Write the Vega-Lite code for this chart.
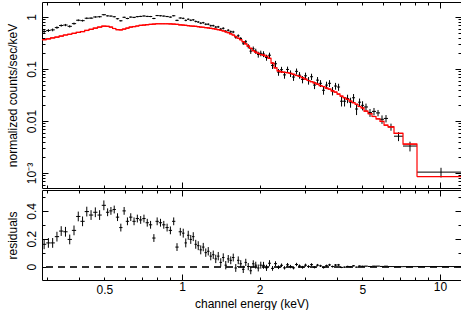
{
  "$schema": "https://vega.github.io/schema/vega-lite/v6.json",
  "padding": {"left": 5, "top": 1, "right": 0, "bottom": 0},
  "spacing": 0,
  "config": {
    "view": {"stroke": "black", "strokeWidth": 1},
    "font": "Liberation Sans",
    "axis": {"grid": false, "domain": false, "tickColor": "black", "labelColor": "black", "titleColor": "black", "labelFont": "Liberation Sans", "titleFont": "Liberation Sans", "labelFontSize": 12, "titleFontSize": 12, "titleFontWeight": "normal", "tickWidth": 1}
  },
  "data": {"values": [
    {"lo":0.2867,"hi":0.2978,"e":0.2922,"c":0.526,"ce":0.035,"m":0.366,"r":0.16},
    {"lo":0.2978,"hi":0.3094,"e":0.3035,"c":0.55,"ce":0.035,"m":0.38,"r":0.17},
    {"lo":0.3094,"hi":0.3214,"e":0.3153,"c":0.565,"ce":0.035,"m":0.395,"r":0.17},
    {"lo":0.3214,"hi":0.3339,"e":0.3276,"c":0.625,"ce":0.035,"m":0.41,"r":0.215},
    {"lo":0.3339,"hi":0.3468,"e":0.3403,"c":0.685,"ce":0.035,"m":0.43,"r":0.255},
    {"lo":0.3468,"hi":0.3603,"e":0.3535,"c":0.70,"ce":0.035,"m":0.45,"r":0.25},
    {"lo":0.3603,"hi":0.3743,"e":0.3672,"c":0.66,"ce":0.035,"m":0.465,"r":0.195},
    {"lo":0.3743,"hi":0.3888,"e":0.3815,"c":0.745,"ce":0.035,"m":0.485,"r":0.26},
    {"lo":0.3888,"hi":0.4039,"e":0.3963,"c":0.865,"ce":0.035,"m":0.505,"r":0.36},
    {"lo":0.4039,"hi":0.4196,"e":0.4117,"c":0.85,"ce":0.035,"m":0.525,"r":0.325},
    {"lo":0.4196,"hi":0.4359,"e":0.4276,"c":0.945,"ce":0.035,"m":0.55,"r":0.395},
    {"lo":0.4359,"hi":0.4528,"e":0.4442,"c":0.95,"ce":0.035,"m":0.58,"r":0.37},
    {"lo":0.4528,"hi":0.4704,"e":0.4615,"c":1.00,"ce":0.035,"m":0.61,"r":0.39},
    {"lo":0.4704,"hi":0.4886,"e":0.4794,"c":1.01,"ce":0.035,"m":0.64,"r":0.37},
    {"lo":0.4886,"hi":0.5074,"e":0.4980,"c":1.105,"ce":0.035,"m":0.665,"r":0.44},
    {"lo":0.5074,"hi":0.5226,"e":0.5149,"c":1.05,"ce":0.028,"m":0.66,"r":0.39},
    {"lo":0.5226,"hi":0.5382,"e":0.5304,"c":1.04,"ce":0.028,"m":0.64,"r":0.40},
    {"lo":0.5382,"hi":0.5543,"e":0.5462,"c":1.01,"ce":0.028,"m":0.60,"r":0.41},
    {"lo":0.5543,"hi":0.5709,"e":0.5625,"c":0.925,"ce":0.028,"m":0.57,"r":0.355},
    {"lo":0.5709,"hi":0.5880,"e":0.5794,"c":0.845,"ce":0.028,"m":0.565,"r":0.28},
    {"lo":0.5880,"hi":0.6056,"e":0.5967,"c":0.985,"ce":0.028,"m":0.585,"r":0.40},
    {"lo":0.6056,"hi":0.6237,"e":0.6146,"c":0.935,"ce":0.028,"m":0.61,"r":0.325},
    {"lo":0.6237,"hi":0.6424,"e":0.6330,"c":0.995,"ce":0.028,"m":0.64,"r":0.355},
    {"lo":0.6424,"hi":0.6616,"e":0.6519,"c":0.98,"ce":0.028,"m":0.655,"r":0.325},
    {"lo":0.6616,"hi":0.6814,"e":0.6714,"c":1.015,"ce":0.028,"m":0.67,"r":0.345},
    {"lo":0.6814,"hi":0.7018,"e":0.6915,"c":1.025,"ce":0.028,"m":0.69,"r":0.335},
    {"lo":0.7018,"hi":0.7228,"e":0.7122,"c":1.045,"ce":0.028,"m":0.70,"r":0.345},
    {"lo":0.7228,"hi":0.7444,"e":0.7335,"c":1.025,"ce":0.028,"m":0.71,"r":0.315},
    {"lo":0.7444,"hi":0.7667,"e":0.7555,"c":1.02,"ce":0.028,"m":0.72,"r":0.30},
    {"lo":0.7667,"hi":0.7896,"e":0.7781,"c":0.935,"ce":0.028,"m":0.73,"r":0.205},
    {"lo":0.7896,"hi":0.8133,"e":0.8013,"c":1.065,"ce":0.028,"m":0.74,"r":0.325},
    {"lo":0.8133,"hi":0.8376,"e":0.8254,"c":1.055,"ce":0.028,"m":0.74,"r":0.315},
    {"lo":0.8376,"hi":0.8627,"e":0.8500,"c":1.04,"ce":0.028,"m":0.74,"r":0.30},
    {"lo":0.8627,"hi":0.8885,"e":0.8755,"c":1.02,"ce":0.028,"m":0.74,"r":0.28},
    {"lo":0.8885,"hi":0.9151,"e":0.9017,"c":0.995,"ce":0.028,"m":0.735,"r":0.26},
    {"lo":0.9151,"hi":0.9425,"e":0.9287,"c":1.055,"ce":0.028,"m":0.73,"r":0.325},
    {"lo":0.9425,"hi":0.9707,"e":0.9565,"c":0.86,"ce":0.028,"m":0.72,"r":0.14},
    {"lo":0.9707,"hi":1.0,"e":0.9851,"c":0.955,"ce":0.028,"m":0.705,"r":0.25},
    {"lo":1.0,"hi":1.0226,"e":1.0112,"c":0.94,"ce":0.032,"m":0.70,"r":0.24},
    {"lo":1.0226,"hi":1.0457,"e":1.0341,"c":0.86,"ce":0.032,"m":0.69,"r":0.17},
    {"lo":1.0457,"hi":1.0693,"e":1.0574,"c":0.905,"ce":0.032,"m":0.68,"r":0.225},
    {"lo":1.0693,"hi":1.0934,"e":1.0813,"c":0.865,"ce":0.032,"m":0.67,"r":0.195},
    {"lo":1.0934,"hi":1.1181,"e":1.1057,"c":0.88,"ce":0.032,"m":0.665,"r":0.215},
    {"lo":1.1181,"hi":1.1433,"e":1.1306,"c":0.82,"ce":0.032,"m":0.66,"r":0.16},
    {"lo":1.1433,"hi":1.1691,"e":1.1561,"c":0.80,"ce":0.032,"m":0.65,"r":0.15},
    {"lo":1.1691,"hi":1.1955,"e":1.1822,"c":0.76,"ce":0.032,"m":0.64,"r":0.12},
    {"lo":1.1955,"hi":1.2225,"e":1.2089,"c":0.775,"ce":0.03,"m":0.635,"r":0.14},
    {"lo":1.2225,"hi":1.2501,"e":1.2362,"c":0.725,"ce":0.03,"m":0.625,"r":0.10},
    {"lo":1.2501,"hi":1.2783,"e":1.2641,"c":0.725,"ce":0.03,"m":0.615,"r":0.11},
    {"lo":1.2783,"hi":1.3071,"e":1.2926,"c":0.68,"ce":0.03,"m":0.605,"r":0.075},
    {"lo":1.3071,"hi":1.3366,"e":1.3218,"c":0.68,"ce":0.03,"m":0.595,"r":0.085},
    {"lo":1.3366,"hi":1.3668,"e":1.3516,"c":0.64,"ce":0.03,"m":0.585,"r":0.055},
    {"lo":1.3668,"hi":1.3976,"e":1.3821,"c":0.645,"ce":0.03,"m":0.57,"r":0.075},
    {"lo":1.3976,"hi":1.4292,"e":1.4133,"c":0.585,"ce":0.03,"m":0.555,"r":0.03},
    {"lo":1.4292,"hi":1.4614,"e":1.4452,"c":0.605,"ce":0.03,"m":0.54,"r":0.065},
    {"lo":1.4614,"hi":1.4944,"e":1.4778,"c":0.53,"ce":0.03,"m":0.52,"r":0.01},
    {"lo":1.4944,"hi":1.5281,"e":1.5112,"c":0.555,"ce":0.028,"m":0.50,"r":0.055},
    {"lo":1.5281,"hi":1.5626,"e":1.5452,"c":0.52,"ce":0.028,"m":0.475,"r":0.045},
    {"lo":1.5626,"hi":1.5979,"e":1.5801,"c":0.515,"ce":0.028,"m":0.45,"r":0.065},
    {"lo":1.5979,"hi":1.6339,"e":1.6158,"c":0.41,"ce":0.028,"m":0.42,"r":-0.01},
    {"lo":1.6339,"hi":1.6708,"e":1.6522,"c":0.435,"ce":0.028,"m":0.39,"r":0.045},
    {"lo":1.6708,"hi":1.7085,"e":1.6895,"c":0.385,"ce":0.026,"m":0.365,"r":0.02},
    {"lo":1.7085,"hi":1.7471,"e":1.7277,"c":0.315,"ce":0.026,"m":0.335,"r":-0.02},
    {"lo":1.7471,"hi":1.7865,"e":1.7667,"c":0.335,"ce":0.026,"m":0.305,"r":0.03},
    {"lo":1.7865,"hi":1.8268,"e":1.8065,"c":0.275,"ce":0.026,"m":0.275,"r":0.0},
    {"lo":1.8268,"hi":1.8681,"e":1.8473,"c":0.22,"ce":0.025,"m":0.25,"r":-0.03},
    {"lo":1.8681,"hi":1.9102,"e":1.8891,"c":0.245,"ce":0.025,"m":0.225,"r":0.02},
    {"lo":1.9102,"hi":1.9533,"e":1.9316,"c":0.22,"ce":0.025,"m":0.21,"r":0.01},
    {"lo":1.9533,"hi":1.9974,"e":1.9752,"c":0.19,"ce":0.025,"m":0.20,"r":-0.01},
    {"lo":1.9974,"hi":2.0425,"e":2.0198,"c":0.20,"ce":0.025,"m":0.19,"r":0.01},
    {"lo":2.0425,"hi":2.0979,"e":2.0700,"c":0.194,"ce":0.025,"m":0.185,"r":0.009},
    {"lo":2.0979,"hi":2.1549,"e":2.1262,"c":0.166,"ce":0.022,"m":0.175,"r":-0.009},
    {"lo":2.1549,"hi":2.2134,"e":2.1839,"c":0.184,"ce":0.022,"m":0.16,"r":0.024},
    {"lo":2.2134,"hi":2.2735,"e":2.2432,"c":0.117,"ce":0.017,"m":0.13,"r":-0.013},
    {"lo":2.2735,"hi":2.3352,"e":2.3041,"c":0.126,"ce":0.017,"m":0.105,"r":0.021},
    {"lo":2.3352,"hi":2.3986,"e":2.3667,"c":0.087,"ce":0.013,"m":0.092,"r":-0.005},
    {"lo":2.3986,"hi":2.4637,"e":2.4309,"c":0.097,"ce":0.013,"m":0.088,"r":0.009},
    {"lo":2.4637,"hi":2.5306,"e":2.4969,"c":0.077,"ce":0.012,"m":0.086,"r":-0.009},
    {"lo":2.5306,"hi":2.5993,"e":2.5647,"c":0.098,"ce":0.013,"m":0.085,"r":0.013},
    {"lo":2.5993,"hi":2.6698,"e":2.6343,"c":0.082,"ce":0.012,"m":0.082,"r":0.0},
    {"lo":2.6698,"hi":2.7423,"e":2.7058,"c":0.070,"ce":0.011,"m":0.079,"r":-0.009},
    {"lo":2.7423,"hi":2.8167,"e":2.7793,"c":0.090,"ce":0.012,"m":0.075,"r":0.015},
    {"lo":2.8167,"hi":2.8932,"e":2.8547,"c":0.076,"ce":0.011,"m":0.072,"r":0.004},
    {"lo":2.8932,"hi":2.9717,"e":2.9322,"c":0.063,"ce":0.010,"m":0.068,"r":-0.005},
    {"lo":2.9717,"hi":3.0524,"e":3.0118,"c":0.074,"ce":0.011,"m":0.064,"r":0.010},
    {"lo":3.0524,"hi":3.1352,"e":3.0935,"c":0.060,"ce":0.010,"m":0.060,"r":0.0},
    {"lo":3.1352,"hi":3.2203,"e":3.1775,"c":0.071,"ce":0.010,"m":0.057,"r":0.014},
    {"lo":3.2203,"hi":3.3077,"e":3.2637,"c":0.049,"ce":0.008,"m":0.054,"r":-0.005},
    {"lo":3.3077,"hi":3.3975,"e":3.3523,"c":0.061,"ce":0.009,"m":0.051,"r":0.010},
    {"lo":3.3975,"hi":3.4897,"e":3.4433,"c":0.053,"ce":0.008,"m":0.048,"r":0.005},
    {"lo":3.4897,"hi":3.5844,"e":3.5367,"c":0.039,"ce":0.007,"m":0.046,"r":-0.007},
    {"lo":3.5844,"hi":3.6817,"e":3.6327,"c":0.049,"ce":0.008,"m":0.043,"r":0.006},
    {"lo":3.6817,"hi":3.7816,"e":3.7313,"c":0.053,"ce":0.008,"m":0.041,"r":0.012},
    {"lo":3.7816,"hi":3.8843,"e":3.8326,"c":0.038,"ce":0.007,"m":0.038,"r":0.0},
    {"lo":3.8843,"hi":3.9897,"e":3.9366,"c":0.047,"ce":0.007,"m":0.036,"r":0.011},
    {"lo":3.9897,"hi":4.0980,"e":4.0435,"c":0.045,"ce":0.007,"m":0.033,"r":0.012},
    {"lo":4.0980,"hi":4.2092,"e":4.1532,"c":0.024,"ce":0.005,"m":0.030,"r":-0.006},
    {"lo":4.2092,"hi":4.3235,"e":4.2659,"c":0.024,"ce":0.005,"m":0.028,"r":-0.004},
    {"lo":4.3235,"hi":4.4408,"e":4.3818,"c":0.027,"ce":0.005,"m":0.026,"r":0.001},
    {"lo":4.4408,"hi":4.5614,"e":4.5006,"c":0.023,"ce":0.005,"m":0.024,"r":-0.001},
    {"lo":4.5614,"hi":4.6852,"e":4.6229,"c":0.028,"ce":0.005,"m":0.0225,"r":0.0055},
    {"lo":4.6852,"hi":4.8123,"e":4.7483,"c":0.017,"ce":0.004,"m":0.021,"r":-0.004},
    {"lo":4.8123,"hi":4.9429,"e":4.8772,"c":0.023,"ce":0.004,"m":0.019,"r":0.004},
    {"lo":4.9429,"hi":5.075,"e":5.0095,"c":0.020,"ce":0.004,"m":0.0178,"r":0.0022},
    {"lo":5.075,"hi":5.259,"e":5.166,"c":0.0186,"ce":0.003,"m":0.0155,"r":0.0031},
    {"lo":5.259,"hi":5.450,"e":5.354,"c":0.0145,"ce":0.0025,"m":0.0138,"r":0.0007},
    {"lo":5.450,"hi":5.649,"e":5.548,"c":0.0153,"ce":0.0025,"m":0.0122,"r":0.0031},
    {"lo":5.649,"hi":5.854,"e":5.751,"c":0.0143,"ce":0.002,"m":0.0110,"r":0.0033},
    {"lo":5.854,"hi":6.067,"e":5.959,"c":0.0108,"ce":0.002,"m":0.0098,"r":0.0010},
    {"lo":6.067,"hi":6.287,"e":6.176,"c":0.0112,"ce":0.0018,"m":0.0083,"r":0.0029},
    {"lo":6.287,"hi":6.633,"e":6.457,"c":0.0077,"ce":0.0012,"m":0.0077,"r":0.0},
    {"lo":6.633,"hi":7.188,"e":6.906,"c":0.0051,"ce":0.001,"m":0.0058,"r":-0.0007},
    {"lo":7.188,"hi":8.144,"e":7.650,"c":0.0033,"ce":0.0007,"m":0.0036,"r":-0.0003},
    {"lo":8.144,"hi":12.5,"e":10.09,"c":0.00104,"ce":0.00022,"m":0.00085,"r":0.0002}
  ]},
  "vconcat": [
    {
      "width": 419,
      "height": 186,
      "layer": [
        {
          "mark": {"type": "rule", "color": "black", "strokeWidth": 1, "clip": true},
          "encoding": {
            "x": {"field": "lo", "type": "quantitative", "scale": {"type": "log", "domain": [0.2867, 12.06], "nice": false},
              "axis": {"orient": "bottom", "values": [0.3,0.4,0.5,0.6,0.7,0.8,0.9,1,2,3,4,5,6,7,8,9,10], "labels": false, "title": null,
                "tickSize": {"condition": {"test": "datum.value == 1 || datum.value == 10", "value": -6}, "value": -3}}},
            "x2": {"field": "hi"},
            "y": {"field": "c", "type": "quantitative", "scale": {"type": "log", "domain": [0.000515, 1.94], "nice": false},
              "axis": {"orient": "left", "title": "normalized counts/sec/keV", "titlePadding": 6,
                "values": [0.0006,0.0007,0.0008,0.0009,0.001,0.002,0.003,0.004,0.005,0.006,0.007,0.008,0.009,0.01,0.02,0.03,0.04,0.05,0.06,0.07,0.08,0.09,0.1,0.2,0.3,0.4,0.5,0.6,0.7,0.8,0.9,1],
                "labelExpr": "datum.value == 1 ? '1' : datum.value == 0.1 ? '0.1' : datum.value == 0.01 ? '0.01' : datum.value == 0.001 ? '10⁻³' : ''",
                "labelAngle": -90, "labelAlign": "center", "labelBaseline": "bottom", "labelPadding": 10,
                "tickSize": {"condition": {"test": "datum.value == 1 || datum.value == 0.1 || datum.value == 0.01 || datum.value == 0.001", "value": -6}, "value": -3}}}
          }
        },
        {
          "mark": {"type": "errorbar", "color": "black", "thickness": 1},
          "encoding": {
            "x": {"field": "e", "type": "quantitative", "scale": {"type": "log", "domain": [0.2867, 12.06], "nice": false},
              "axis": {"orient": "top", "values": [0.3,0.4,0.5,0.6,0.7,0.8,0.9,1,2,3,4,5,6,7,8,9,10], "labels": false, "title": null,
                "tickSize": {"condition": {"test": "datum.value == 1 || datum.value == 10", "value": -6}, "value": -3}}},
            "y": {"field": "c", "type": "quantitative", "scale": {"type": "log", "domain": [0.000515, 1.94], "nice": false},
              "axis": {"orient": "right", "labels": false, "title": null,
                "values": [0.0006,0.0007,0.0008,0.0009,0.001,0.002,0.003,0.004,0.005,0.006,0.007,0.008,0.009,0.01,0.02,0.03,0.04,0.05,0.06,0.07,0.08,0.09,0.1,0.2,0.3,0.4,0.5,0.6,0.7,0.8,0.9,1],
                "tickSize": {"condition": {"test": "datum.value == 1 || datum.value == 0.1 || datum.value == 0.01 || datum.value == 0.001", "value": -6}, "value": -3}}},
            "yError": {"field": "ce"}
          }
        },
        {
          "mark": {"type": "line", "color": "#ff0000", "strokeWidth": 1.2, "interpolate": "step-after", "clip": true},
          "encoding": {
            "x": {"field": "lo", "type": "quantitative", "scale": {"type": "log", "domain": [0.2867, 12.06], "nice": false}, "axis": null},
            "y": {"field": "m", "type": "quantitative", "scale": {"type": "log", "domain": [0.000515, 1.94], "nice": false}, "axis": null}
          }
        },
        {
          "mark": {"type": "rule", "color": "#ff0000", "strokeWidth": 1.2, "clip": true},
          "encoding": {
            "x": {"field": "lo", "type": "quantitative", "scale": {"type": "log", "domain": [0.2867, 12.06], "nice": false}, "axis": null},
            "x2": {"field": "hi"},
            "y": {"field": "m", "type": "quantitative", "scale": {"type": "log", "domain": [0.000515, 1.94], "nice": false}, "axis": null}
          }
        }
      ],
      "resolve": {"axis": {"x": "independent", "y": "independent"}}
    },
    {
      "width": 419,
      "height": 90,
      "layer": [
        {
          "mark": {"type": "rule", "color": "#333333", "strokeWidth": 1, "strokeDash": [7, 5]},
          "encoding": {
            "y": {"datum": 0, "type": "quantitative", "scale": {"domain": [-0.0964, 0.55], "nice": false, "zero": false}, "axis": null}
          }
        },
        {
          "mark": {"type": "rule", "color": "black", "strokeWidth": 1, "clip": true},
          "encoding": {
            "x": {"field": "lo", "type": "quantitative", "scale": {"type": "log", "domain": [0.2867, 12.06], "nice": false},
              "axis": {"orient": "bottom", "values": [0.3,0.4,0.5,0.6,0.7,0.8,0.9,1,2,3,4,5,6,7,8,9,10], "title": "channel energy (keV)", "titlePadding": 3,
                "labelExpr": "datum.value == 0.5 ? '0.5' : datum.value == 1 ? '1' : datum.value == 2 ? '2' : datum.value == 5 ? '5' : datum.value == 10 ? '10' : ''",
                "labelPadding": 7, "labelFlush": false,
                "tickSize": {"condition": {"test": "datum.value == 1 || datum.value == 10", "value": -6}, "value": -3}}},
            "x2": {"field": "hi"},
            "y": {"field": "r", "type": "quantitative", "scale": {"domain": [-0.0964, 0.55], "nice": false, "zero": false},
              "axis": {"orient": "left", "title": "residuals", "titlePadding": 6,
                "values": [0, 0.1, 0.2, 0.3, 0.4, 0.5],
                "labelExpr": "datum.value == 0 ? '0' : datum.value == 0.2 ? '0.2' : datum.value == 0.4 ? '0.4' : ''",
                "labelAngle": -90, "labelAlign": "center", "labelBaseline": "bottom", "labelPadding": 10,
                "tickSize": {"condition": {"test": "datum.value == 0 || datum.value == 0.2 || datum.value == 0.4", "value": -6}, "value": -3}}}
          }
        },
        {
          "mark": {"type": "errorbar", "color": "black", "thickness": 1},
          "encoding": {
            "x": {"field": "e", "type": "quantitative", "scale": {"type": "log", "domain": [0.2867, 12.06], "nice": false},
              "axis": {"orient": "top", "values": [0.3,0.4,0.5,0.6,0.7,0.8,0.9,1,2,3,4,5,6,7,8,9,10], "labels": false, "title": null,
                "tickSize": {"condition": {"test": "datum.value == 1 || datum.value == 10", "value": -6}, "value": -3}}},
            "y": {"field": "r", "type": "quantitative", "scale": {"domain": [-0.0964, 0.55], "nice": false, "zero": false},
              "axis": {"orient": "right", "labels": false, "title": null, "values": [0, 0.1, 0.2, 0.3, 0.4, 0.5],
                "tickSize": {"condition": {"test": "datum.value == 0 || datum.value == 0.2 || datum.value == 0.4", "value": -6}, "value": -3}}},
            "yError": {"field": "ce"}
          }
        }
      ],
      "resolve": {"axis": {"x": "independent", "y": "independent"}}
    }
  ]
}
